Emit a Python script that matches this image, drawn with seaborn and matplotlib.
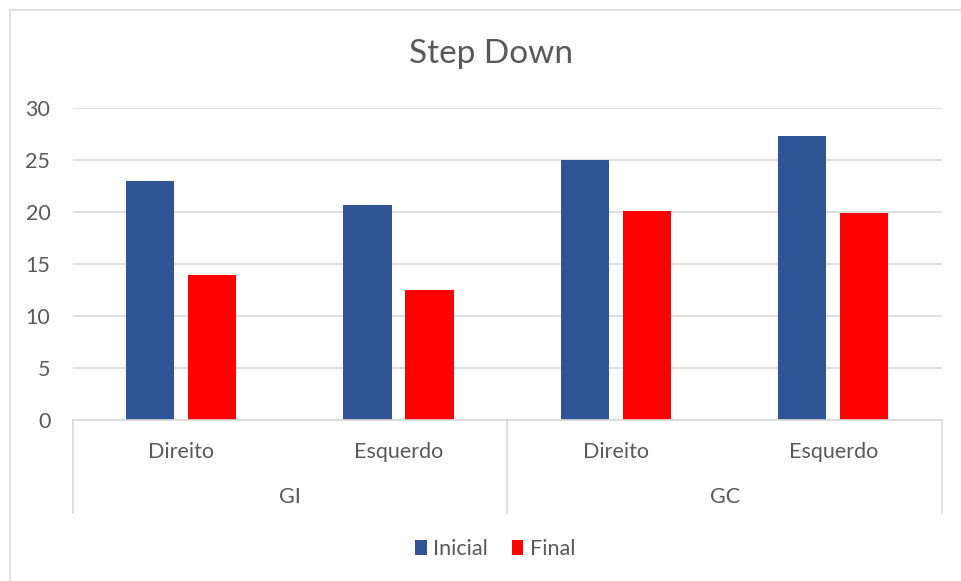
import matplotlib
matplotlib.use("Agg")
import matplotlib.pyplot as plt
import matplotlib.transforms as mtransforms
from matplotlib.patches import Rectangle, Patch
import pandas as pd
import seaborn as sns

# Data
groups = ["GI", "GI", "GC", "GC"]
sides = ["Direito", "Esquerdo", "Direito", "Esquerdo"]
series = ["Inicial", "Final"]
inicial = [23.0, 20.7, 25.0, 27.3]
final = [13.9, 12.5, 20.1, 19.9]
yticks = [0, 5, 10, 15, 20, 25, 30]

cats = [f"{g}|{s}" for g, s in zip(groups, sides)]
df = pd.DataFrame({
    "cat": cats * 2,
    "serie": ["Inicial"] * 4 + ["Final"] * 4,
    "valor": inicial + final,
})

sns.set_theme(style="white")
plt.rcParams["font.family"] = ["Lato", "DejaVu Sans"]

text_color = "#595959"
grid_color = "#d9d9d9"
palette = {"Inicial": "#2F5597", "Final": "#FF0000"}
tick_fs = 15.5

W, H = 961, 581
fig = plt.figure(figsize=(W / 100, H / 100), dpi=100)
ax = fig.add_axes([72.5 / W, 161 / H, (942 - 72.5) / W, 312 / H])

sns.barplot(data=df, x="cat", y="valor", hue="serie", order=cats,
            hue_order=series, palette=palette, width=0.571, gap=0.222,
            saturation=1, legend=False, ax=ax, errorbar=None,
            linewidth=0)

ax.set_xlim(-0.5, 3.5)
ax.set_ylim(0, 30)
ax.set_yticks(yticks)
ax.set_yticklabels([str(v) for v in yticks], fontsize=tick_fs, color=text_color)
ax.tick_params(axis="y", length=0, pad=16)
ax.set_xticks([])
ax.set_xlabel("")
ax.set_ylabel("")
ax.yaxis.grid(True, color=grid_color, linewidth=1.2)
ax.set_axisbelow(True)
for s in ["top", "right", "left"]:
    ax.spines[s].set_visible(False)
ax.spines["bottom"].set_color(grid_color)
ax.spines["bottom"].set_linewidth(1.2)

# Two-level category axis
trans = mtransforms.blended_transform_factory(ax.transData, ax.transAxes)
axis_h_px = 312
sep_bottom = -(513 - 420) / axis_h_px
for xs in [-0.5, 1.5, 3.5]:
    ax.plot([xs, xs], [0, sep_bottom], transform=trans, color=grid_color,
            linewidth=1.2, clip_on=False)
for i, s in enumerate(sides):
    ax.text(i, -(452 - 420) / axis_h_px, s, transform=trans, ha="center",
            va="center", fontsize=tick_fs, color=text_color)
for i, g in enumerate(["GI", "GC"]):
    ax.text(2 * i + 0.5, -(497 - 420) / axis_h_px, g, transform=trans,
            ha="center", va="center", fontsize=tick_fs, color=text_color)

# Title
fig.text(491 / W, 1 - 54 / H, "Step Down", ha="center", va="center",
         fontsize=24, color=text_color)

# Legend
handles = [Patch(facecolor=palette[s], edgecolor="none", label=s) for s in series]
fig.legend(handles=handles, loc="center", bbox_to_anchor=(495 / W, 1 - 549 / H),
           ncol=2, frameon=False, fontsize=tick_fs, labelcolor=text_color,
           handlelength=0.55, handleheight=0.65, handletextpad=0.3,
           columnspacing=1.1)

# Chart-area border
fig.patches.append(Rectangle((9.5 / W, -0.1), 1.2, 1 - 9.5 / H + 0.1,
                             transform=fig.transFigure, fill=False,
                             edgecolor=grid_color, linewidth=1.2))

fig.savefig("out.png", dpi=100, facecolor="white")
